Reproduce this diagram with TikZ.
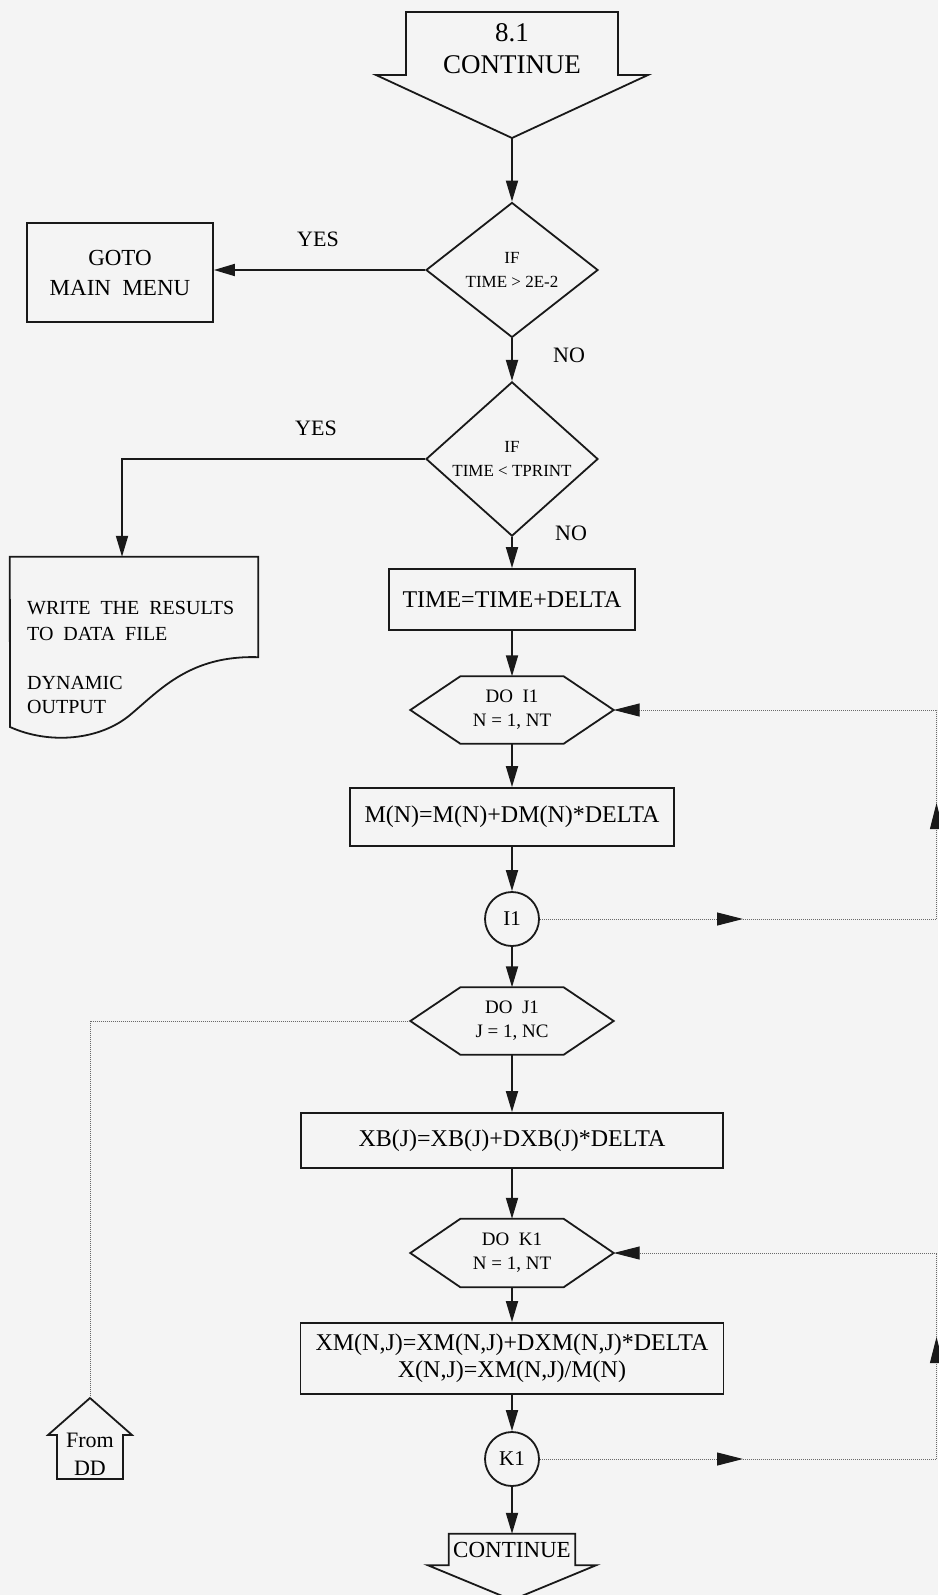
\documentclass[tikz,border=0pt]{standalone}
\usepackage{fontspec}
\setmainfont{Liberation Serif}
\usetikzlibrary{arrows.meta,shapes.geometric,calc}

\definecolor{paper}{RGB}{244,244,244}
\definecolor{ink}{RGB}{25,25,25}
\definecolor{dots}{RGB}{105,105,105}

\tikzset{
  flow/.style={draw=ink, line width=1.8pt, -{Triangle[length=21pt,width=12pt]}},
  backline/.style={draw=dots, line width=1pt, dash pattern=on 1pt off 1pt},
  looptip/.style={-{Triangle[length=26pt,width=13pt,color=ink]}},
  outline/.style={draw=ink, line width=1.8pt},
  procbox/.style={outline, rectangle, inner sep=0pt, align=center,
    font=\fontsize{24}{28}\selectfont},
  decision/.style={outline, diamond, inner sep=0pt, align=center,
    minimum width=172pt, font=\fontsize{17}{24}\selectfont},
  hexframe/.style={rectangle, inner sep=0pt, minimum width=203pt,
    minimum height=67pt, align=center, font=\fontsize{19}{24}\selectfont},
  connector/.style={outline, circle, inner sep=0pt, minimum size=54pt,
    font=\fontsize{21}{24}\selectfont},
  branchtext/.style={font=\fontsize{22}{26}\selectfont},
}

% hexagonal loop header drawn around a named frame node
\newcommand\hexoutline[1]{%
  \draw[outline] (#1.west) -- ([xshift=50pt]#1.north west)
    -- ([xshift=-50pt]#1.north east) -- (#1.east)
    -- ([xshift=-50pt]#1.south east) -- ([xshift=50pt]#1.south west) -- cycle;}

\begin{document}
\begin{tikzpicture}[x=1pt, y=-1pt]
\fill[paper] (0,0) rectangle (938,1595);
\useasboundingbox (0,0) rectangle (938,1595);

% off-page entry connector
\coordinate (starttip) at (512,138);
\draw[outline] (406,12) -- (618,12) -- (618,75) -- (648,75) -- (starttip)
  -- (376,75) -- (406,75) -- cycle;
\node[align=center, font=\fontsize{27}{32}\selectfont] (start) at (512,49) {8.1\\CONTINUE};

% decisions
\node[decision, minimum height=135pt] (d1) at (512,270) {IF\\TIME > 2E-2};
\node[decision, minimum height=136pt] (d2) at (512,459) {IF\\TIME < TPRINT};

\node[procbox, minimum width=186pt, minimum height=99pt,
      font=\fontsize{23}{30}\selectfont] (goto) at (120,272.5) {GOTO\\MAIN\ \ MENU};
\node[branchtext] (yes1) at (318,239) {YES};
\node[branchtext] (no1) at (569,355) {NO};
\node[branchtext] (yes2) at (316,428) {YES};
\node[branchtext] (no2) at (571,533) {NO};

% document symbol
\node[inner sep=0pt, minimum width=248pt, minimum height=100pt] (doc) at (134,607) {};
\draw[outline] (doc.north west) -- (doc.north east) -- (doc.south east)
  .. controls (190,655) and (160,690) .. (130,715)
  .. controls (100,740) and (50,745) .. (10,727) -- cycle;
\node[anchor=west, align=left, inner sep=0pt, font=\fontsize{20}{26}\selectfont]
  (wtext) at (27,621) {WRITE\ \ THE\ \ RESULTS\\TO\ \ DATA\ \ FILE};
\node[anchor=west, align=left, inner sep=0pt, font=\fontsize{20}{24}\selectfont]
  (dtext) at (27,695) {DYNAMIC\\OUTPUT};

% main column
\node[procbox, minimum width=246pt, minimum height=61pt] (tm) at (512,599.5) {TIME=TIME+DELTA};
\node[hexframe] (h1) at (512,710) {DO~~I1\\N = 1, NT};
\hexoutline{h1}
\node[procbox, minimum width=324pt, minimum height=58pt] (mb) at (512,817) {M(N)=M(N)+DM(N)*DELTA};
\node[connector] (c1) at (512,919) {I1};
\node[hexframe] (h2) at (512,1021) {DO~~J1\\J = 1, NC};
\hexoutline{h2}
\node[procbox, minimum width=422pt, minimum height=55pt] (xb) at (512,1140.5) {XB(J)=XB(J)+DXB(J)*DELTA};
\node[hexframe, minimum height=68pt] (h3) at (512,1253) {DO~~K1\\N = 1, NT};
\hexoutline{h3}
\node[procbox, minimum width=423pt, minimum height=71pt,
      font=\fontsize{24}{27}\selectfont] (xm) at (512,1358.5)
  {XM(N,J)=XM(N,J)+DXM(N,J)*DELTA\\X(N,J)=XM(N,J)/M(N)};
\node[connector] (c2) at (512,1459) {K1};

% off-page exit connector
\node[inner sep=0pt, minimum width=126pt, minimum height=31pt,
      font=\fontsize{23}{26}\selectfont] (endc) at (512,1549.5) {CONTINUE};
\coordinate (endtip) at (512,1600);
\draw[outline] (endc.north west) -- (endc.north east) -- (endc.south east)
  -- ++(21,0) -- (endtip) -- ([xshift=-21pt]endc.south west) -- (endc.south west) -- cycle;

% incoming connector from DD
\node[align=center, inner sep=0pt, font=\fontsize{22}{28}\selectfont] (fromdd) at (90,1454) {From\\DD};
\coordinate (ddtip) at (90,1398);
\draw[outline] (ddtip) -- (132,1435) -- (123,1435) -- (123,1479) -- (57,1479)
  -- (57,1435) -- (48,1435) -- cycle;

% flow arrows
\draw[flow] (starttip) -- (d1.north);
\draw[flow] (d1.west) -- (d1.west -| goto.east);
\draw[flow] (d1.south) -- (d2.north);
\draw[flow] (d2.west) -| ([xshift=-12pt]doc.north);
\draw[flow] (d2.south) -- (tm.north);
\draw[flow] (tm.south) -- (h1.north);
\draw[flow] (h1.south) -- (mb.north);
\draw[flow] (mb.south) -- (c1.north);
\draw[flow] (c1.south) -- (h2.north);
\draw[flow] (h2.south) -- (xb.north);
\draw[flow] (xb.south) -- (h3.north);
\draw[flow] (h3.south) -- (xm.north);
\draw[flow] (xm.south) -- (c2.north);
\draw[flow] (c2.south) -- (endc.north);

% loop-back lines
\coordinate (i1mid) at (743,919);
\coordinate (i1low) at (936.5,919);
\coordinate (i1up) at (936.5,803);
\coordinate (i1top) at (936.5,710);
\draw[backline, looptip] (c1.east) -- (i1mid);
\draw[backline, looptip] (i1mid) -- (i1low) -- (i1up);
\draw[backline, looptip] (i1up) -- (i1top) -- (h1.east);

\coordinate (k1mid) at (743,1459);
\coordinate (k1low) at (936.5,1459);
\coordinate (k1up) at (936.5,1337);
\coordinate (k1top) at (936.5,1253);
\draw[backline, looptip] (c2.east) -- (k1mid);
\draw[backline, looptip] (k1mid) -- (k1low) -- (k1up);
\draw[backline, looptip] (k1up) -- (k1top) -- (h3.east);

\draw[backline] (h2.west) -- (h2.west -| ddtip) -- (ddtip);
\end{tikzpicture}
\end{document}
